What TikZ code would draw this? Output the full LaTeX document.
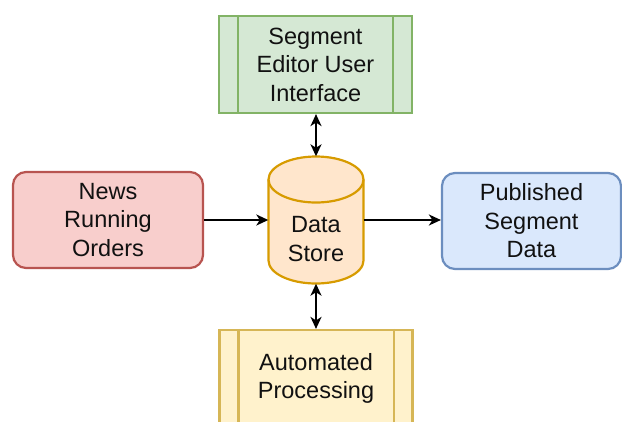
\documentclass[tikz,border=0pt]{standalone}
\usepackage{fontspec}
\setmainfont{Liberation Sans}
\usetikzlibrary{arrows.meta,calc}
\definecolor{gfill}{HTML}{D5E8D4}
\definecolor{gline}{HTML}{82B366}
\definecolor{rfill}{HTML}{F8CECC}
\definecolor{rline}{HTML}{B85450}
\definecolor{bfill}{HTML}{DAE8FC}
\definecolor{bline}{HTML}{6C8EBF}
\definecolor{yfill}{HTML}{FFF2CC}
\definecolor{yline}{HTML}{D6B656}
\definecolor{ofill}{HTML}{FFE6CC}
\definecolor{oline}{HTML}{D79B00}
\definecolor{txt}{HTML}{111111}
\begin{document}
\begin{tikzpicture}[x=1pt,y=-1pt,
  lbl/.style={text=txt,align=center,font=\fontsize{23.5}{28.5}\selectfont},
  procbox/.style={lbl,draw,line width=2.2pt,minimum width=193pt,minimum height=97pt,inner sep=0pt},
  roundbox/.style={lbl,draw,line width=2.2pt,rounded corners=13pt,minimum height=96pt,inner sep=0pt},
  conn/.style={line width=2pt,draw=black,-{Stealth[length=12pt,width=11pt,inset=3.5pt]}},
  biconn/.style={line width=2pt,draw=black,{Stealth[length=12pt,width=11pt,inset=3.5pt]}-{Stealth[length=12pt,width=11pt,inset=3.5pt]}}
]
\useasboundingbox (0,0) rectangle (622,421);
\clip (0,0) rectangle (622,421);

% top process box
\node[procbox,fill=gfill,draw=gline] (tb) at (315.5,64.5) {Segment\\Editor User\\Interface};
\draw[gline,line width=2.2pt] ($(tb.north west)+(20,0)$) -- ($(tb.south west)+(20,0)$);
\draw[gline,line width=2.2pt] ($(tb.north east)+(-20,0)$) -- ($(tb.south east)+(-20,0)$);

% bottom process box
\node[procbox,fill=yfill,draw=yline] (bb) at (316,378.5) {Automated\\Processing};
\draw[yline,line width=2.2pt] ($(bb.north west)+(20,0)$) -- ($(bb.south west)+(20,0)$);
\draw[yline,line width=2.2pt] ($(bb.north east)+(-20,0)$) -- ($(bb.south east)+(-20,0)$);

% left and right rounded boxes
\node[roundbox,fill=rfill,draw=rline,minimum width=190pt] (lb) at (108,220) {News\\Running\\Orders};
\node[roundbox,fill=bfill,draw=bline,minimum width=179pt] (rb) at (531.5,221) {Published\\Segment\\Data};

% cylinder (data store)
\node[minimum width=95pt,minimum height=127pt,inner sep=0pt] (ds) at (316,220) {};
\filldraw[fill=ofill,draw=oline,line width=2.2pt]
  (268.5,179.5) -- (268.5,260.5) arc[start angle=180,end angle=360,x radius=47.5pt,y radius=23pt]
  -- (363.5,179.5) arc[start angle=0,end angle=180,x radius=47.5pt,y radius=23pt] -- cycle;
\draw[oline,line width=2.2pt] (268.5,179.5) arc[start angle=180,end angle=360,x radius=47.5pt,y radius=23pt];
\node[lbl] (dst) at (316,239) {Data\\Store};

% connectors
\draw[biconn] (tb.south -| ds.north) -- (ds.north);
\draw[biconn] (ds.south) -- (bb.north);
\draw[conn] (lb.east) -- (lb.east -| ds.west);
\draw[conn] (ds.east) -- (ds.east -| rb.west);
\end{tikzpicture}
\end{document}
